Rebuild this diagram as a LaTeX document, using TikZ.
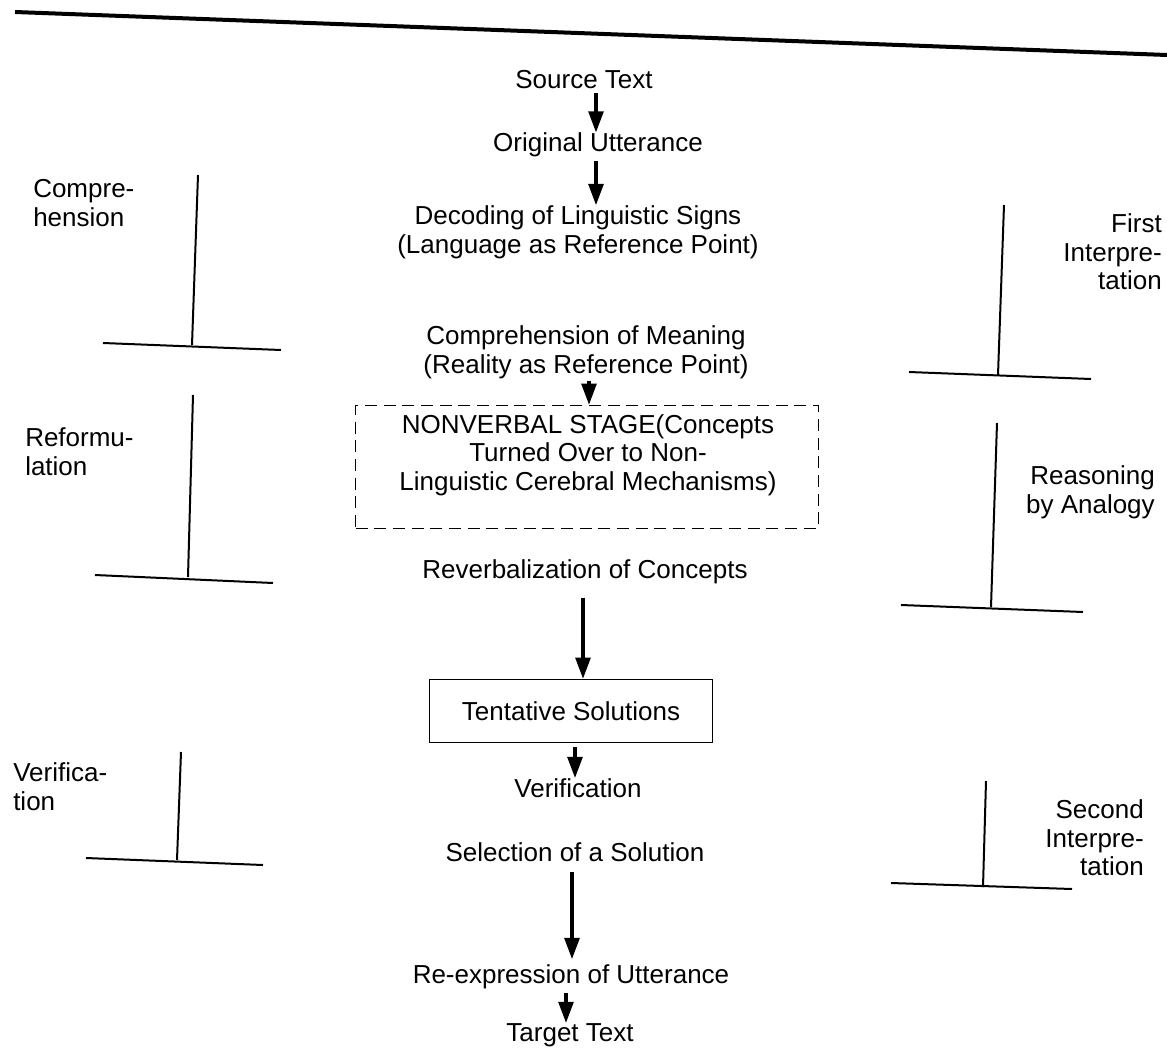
\documentclass[tikz,border=0pt]{standalone}
\usepackage{fontspec}
\setmainfont{Liberation Sans}
\usetikzlibrary{arrows.meta}
\begin{document}
\begin{tikzpicture}[x=0.75pt,y=-0.75pt,
  txt/.style={inner sep=0pt, align=center, font=\fontsize{19.5}{21.5}\selectfont},
  lbll/.style={inner sep=0pt, align=left, anchor=west, font=\fontsize{19.5}{21.5}\selectfont},
  lblr/.style={inner sep=0pt, align=right, anchor=east, font=\fontsize{19.5}{21.5}\selectfont},
  arr/.style={line width=2.8pt, -{Triangle[length=16pt,width=11pt]}, shorten <=3pt, shorten >=0pt},
  brk/.style={line width=1.5pt},
  dashbox/.style={draw, dashed, dash pattern=on 9pt off 5pt, line width=1.1pt, minimum width=347pt, minimum height=92pt, inner sep=0pt},
  solbox/.style={draw, line width=1.1pt, minimum width=212pt, minimum height=47pt, inner sep=0pt, font=\fontsize{19.5}{21.5}\selectfont}]
\useasboundingbox (0,0) rectangle (1167,1049);

% top rule
\draw[line width=3pt] (15,12) -- (1167,55);

% central column
\node[txt] (src) at (584,80) {Source Text};
\node[txt] (orig) at (598,145) {Original Utterance};
\node[txt] (dec) at (578,232) {Decoding of Linguistic Signs\\(Language as Reference Point)};
\node[txt] (comp) at (586,352) {Comprehension of Meaning\\(Reality as Reference Point)};
\node[dashbox] (nvbox) at (587,467) {};
\node[txt] (nvtext) at (588,455) {NONVERBAL STAGE(Concepts\\Turned Over to Non-\\Linguistic Cerebral Mechanisms)};
\node[txt] (rev) at (585,572) {Reverbalization of Concepts};
\node[solbox] (tent) at (571,711) {Tentative Solutions};
\node[txt] (ver) at (578,788) {Verification};
\node[txt] (sel) at (575,852) {Selection of a Solution};
\node[txt] (reexp) at (571,977) {Re-expression of Utterance};
\node[txt] (tgt) at (570,1035) {Target Text};

% arrow columns
\coordinate (c1) at (596,0);
\coordinate (c2) at (596,0);
\coordinate (c3) at (589,0);
\coordinate (c4) at (583,0);
\coordinate (c5) at (575,0);
\coordinate (c6) at (572,0);
\coordinate (c7) at (566,0);

\draw[arr] (src.south -| c1) -- (orig.north -| c1);
\draw[arr] (orig.south -| c2) -- (dec.north -| c2);
\draw[arr, shorten <=2pt] (comp.south -| c3) -- (nvbox.north -| c3);
\draw[arr, shorten <=10pt] (rev.south -| c4) -- (tent.north -| c4);
\draw[arr] (tent.south -| c5) -- (ver.north -| c5);
\draw[arr, shorten <=8pt, shorten >=4pt] (sel.south -| c6) -- (reexp.north -| c6);
\draw[arr] (reexp.south -| c7) -- (tgt.north -| c7);

% left brackets
\draw[brk] (198,175) -- (192,345);
\draw[brk] (103,343) -- (281,350);
\node[lbll] (lcomp) at (33,203) {Compre-\\hension};

\draw[brk] (193,395) -- (188,577);
\draw[brk] (95,575) -- (273,583);
\node[lbll] (lref) at (25,452) {Reformu-\\lation};

\draw[brk] (181,752) -- (177,860);
\draw[brk] (86,858) -- (263,865);
\node[lbll] (lver) at (13,787) {Verifica-\\tion};

% right brackets
\draw[brk] (1004,205) -- (998,375);
\draw[brk] (909,372) -- (1091,379);
\node[lblr] (rfirst) at (1162,252) {First\\Interpre-\\tation};

\draw[brk] (997,423) -- (991,607);
\draw[brk] (901,605) -- (1083,612);
\node[lblr] (rreas) at (1155,492) {Reasoning\\by Analogy};

\draw[brk] (986,781) -- (983,887);
\draw[brk] (891,883) -- (1072,889);
\node[lblr] (rsec) at (1144,838) {Second\\Interpre-\\tation};
\end{tikzpicture}
\end{document}
